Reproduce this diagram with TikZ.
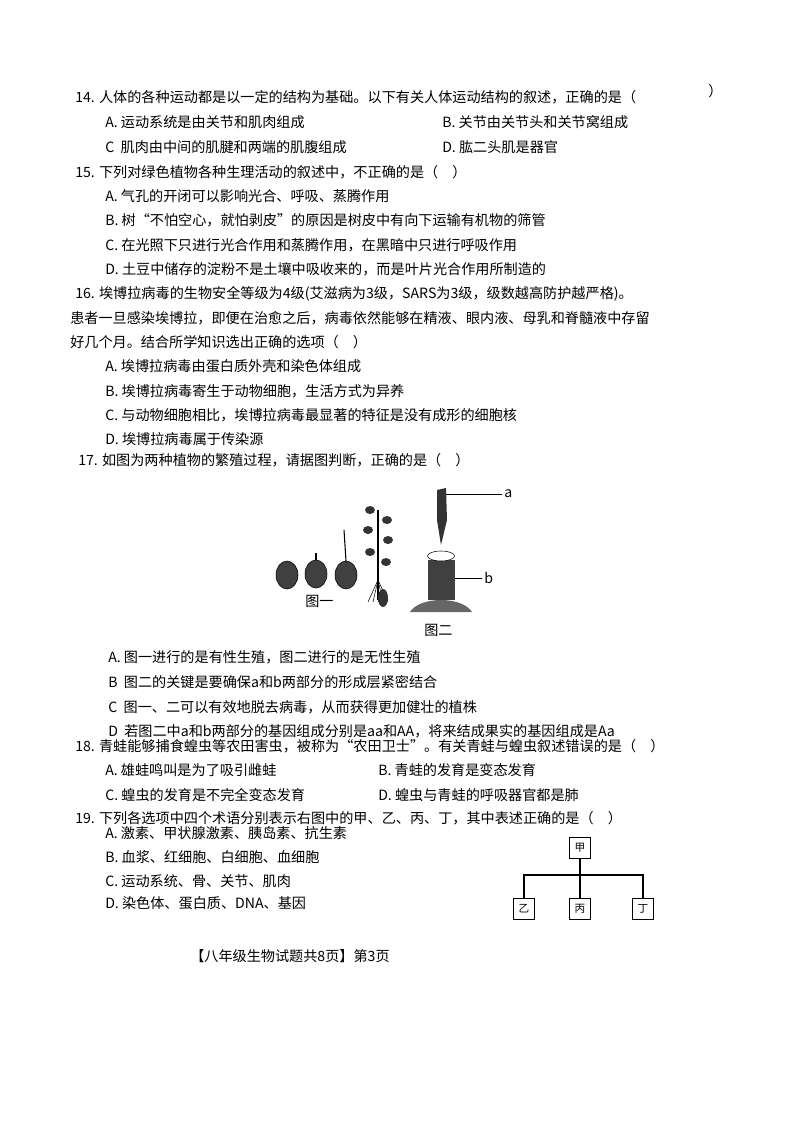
\documentclass[tikz,border=0pt]{standalone}
\usepackage{fontspec}
\setmainfont{Noto Sans CJK SC}
\usetikzlibrary{positioning}
\tikzset{
  ln/.style={anchor=west, inner sep=0pt, font=\fontsize{10.6pt}{12pt}\selectfont},
  tbox/.style={draw, line width=1.2pt, minimum size=16pt, inner sep=1pt, font=\fontsize{8pt}{9pt}\selectfont},
  pot/.style={fill=black!75, draw=black}
}
\begin{document}
\begin{tikzpicture}[x=0.75pt,y=-0.75pt]
  \useasboundingbox (0,0) rectangle (794,1123);
  % question 14
  \node[ln] (q14) at (75,97) {14. 人体的各种运动都是以一定的结构为基础。以下有关人体运动结构的叙述，正确的是（};
  \node[ln] (q14p) at (708,91) {）};
  \node[ln] (q14a) at (105,122) {A. 运动系统是由关节和肌肉组成};
  \node[ln] (q14b) at (442,122) {B. 关节由关节头和关节窝组成};
  \node[ln] (q14c) at (105,147) {C\ \ 肌肉由中间的肌腱和两端的肌腹组成};
  \node[ln] (q14d) at (442,147) {D. 肱二头肌是器官};
  % question 15
  \node[ln] (q15) at (75,172) {15. 下列对绿色植物各种生理活动的叙述中，不正确的是（\quad ）};
  \node[ln] (q15a) at (105,196) {A. 气孔的开闭可以影响光合、呼吸、蒸腾作用};
  \node[ln] (q15b) at (105,220) {B. 树“不怕空心，就怕剥皮”的原因是树皮中有向下运输有机物的筛管};
  \node[ln] (q15c) at (105,245) {C. 在光照下只进行光合作用和蒸腾作用，在黑暗中只进行呼吸作用};
  \node[ln] (q15d) at (105,269) {D. 土豆中储存的淀粉不是土壤中吸收来的，而是叶片光合作用所制造的};
  % question 16
  \node[ln] (q16) at (75,294) {16. 埃博拉病毒的生物安全等级为4级(艾滋病为3级，SARS为3级，级数越高防护越严格)。};
  \node[ln] (q16l2) at (70,318) {患者一旦感染埃博拉，即便在治愈之后，病毒依然能够在精液、眼内液、母乳和脊髓液中存留};
  \node[ln] (q16l3) at (70,342) {好几个月。结合所学知识选出正确的选项（\quad ）};
  \node[ln] (q16a) at (105,366) {A. 埃博拉病毒由蛋白质外壳和染色体组成};
  \node[ln] (q16b) at (105,391) {B. 埃博拉病毒寄生于动物细胞，生活方式为异养};
  \node[ln] (q16c) at (105,415) {C. 与动物细胞相比，埃博拉病毒最显著的特征是没有成形的细胞核};
  \node[ln] (q16d) at (105,439) {D. 埃博拉病毒属于传染源};
  % question 17
  \node[ln] (q17) at (78,460) {17. 如图为两种植物的繁殖过程，请据图判断，正确的是（\quad ）};
  % figure one: potatoes and plant
  \fill[pot] (287,575) ellipse (11 and 14);
  \fill[pot] (316,574) ellipse (11 and 14);
  \fill[pot] (346,575) ellipse (11 and 14);
  \draw[thick] (316,560) -- (316,553);
  \draw[thick] (346,561) -- (344,530);
  \draw[thick] (378,600) -- (378,510);
  \foreach \yy/\dx in {510/-8,520/9,530/-10,540/10,552/-8,562/8} {
    \fill[black!80] (378+\dx,\yy) ellipse (5 and 4);
  }
  \foreach \dx in {-10,-5,0,5,10} {
    \draw (378,580) -- (378+\dx,602);
  }
  \fill[black!80] (383,598) ellipse (5 and 9);
  \node[ln] (fig1) at (305,601) {图一};
  % figure two: grafting
  \fill[black!80] (437,490) -- (446,488) -- (447,520) -- (441,545) -- (437,520) -- cycle;
  \coordinate (ta) at (446,494);
  \draw (ta) -- (502,494);
  \node[ln] (la) at (504,494) {a};
  \fill[black!75] (428,560) rectangle (455,600);
  \draw[fill=white] (441,556) ellipse (13.5 and 5);
  \fill[black!60] (410,612) .. controls (420,596) and (462,596) .. (472,612) -- cycle;
  \coordinate (tb) at (455,578);
  \draw (tb) -- (482,578);
  \node[ln] (lb) at (484,578) {b};
  \node[ln] (fig2) at (424,630) {图二};
  \node[ln] (q17a) at (108,657) {A. 图一进行的是有性生殖，图二进行的是无性生殖};
  \node[ln] (q17b) at (108,682) {B\ \ 图二的关键是要确保a和b两部分的形成层紧密结合};
  \node[ln] (q17c) at (108,707) {C\ \ 图一、二可以有效地脱去病毒，从而获得更加健壮的植株};
  \node[ln] (q17d) at (108,731) {D\ \ 若图二中a和b两部分的基因组成分别是aa和AA，将来结成果实的基因组成是Aa};
  % question 18
  \node[ln] (q18) at (75,746) {18. 青蛙能够捕食蝗虫等农田害虫，被称为“农田卫士”。有关青蛙与蝗虫叙述错误的是（\quad ）};
  \node[ln] (q18a) at (105,770) {A. 雄蛙鸣叫是为了吸引雌蛙};
  \node[ln] (q18b) at (378,770) {B. 青蛙的发育是变态发育};
  \node[ln] (q18c) at (105,795) {C. 蝗虫的发育是不完全变态发育};
  \node[ln] (q18d) at (378,795) {D. 蝗虫与青蛙的呼吸器官都是肺};
  % question 19
  \node[ln] (q19) at (75,818) {19. 下列各选项中四个术语分别表示右图中的甲、乙、丙、丁，其中表述正确的是（\quad ）};
  \node[ln] (q19a) at (105,833) {A. 激素、甲状腺激素、胰岛素、抗生素};
  \node[ln] (q19b) at (105,857) {B. 血浆、红细胞、白细胞、血细胞};
  \node[ln] (q19c) at (105,881) {C. 运动系统、骨、关节、肌肉};
  \node[ln] (q19d) at (105,903) {D. 染色体、蛋白质、DNA、基因};
  % box diagram
  \node[tbox] (jia) at (580,848) {甲};
  \node[tbox] (yi) at (524,909) {乙};
  \node[tbox] (bing) at (580,909) {丙};
  \node[tbox] (ding) at (643,909) {丁};
  \coordinate (hub) at (580,875);
  \draw[line width=1.2pt] (jia) -- (bing);
  \draw[line width=1.2pt] (yi) |- (hub) -| (ding);
  % footer
  \node[ln, anchor=center] (foot) at (290,956) {【八年级生物试题共8页】第3页};
\end{tikzpicture}
\end{document}
